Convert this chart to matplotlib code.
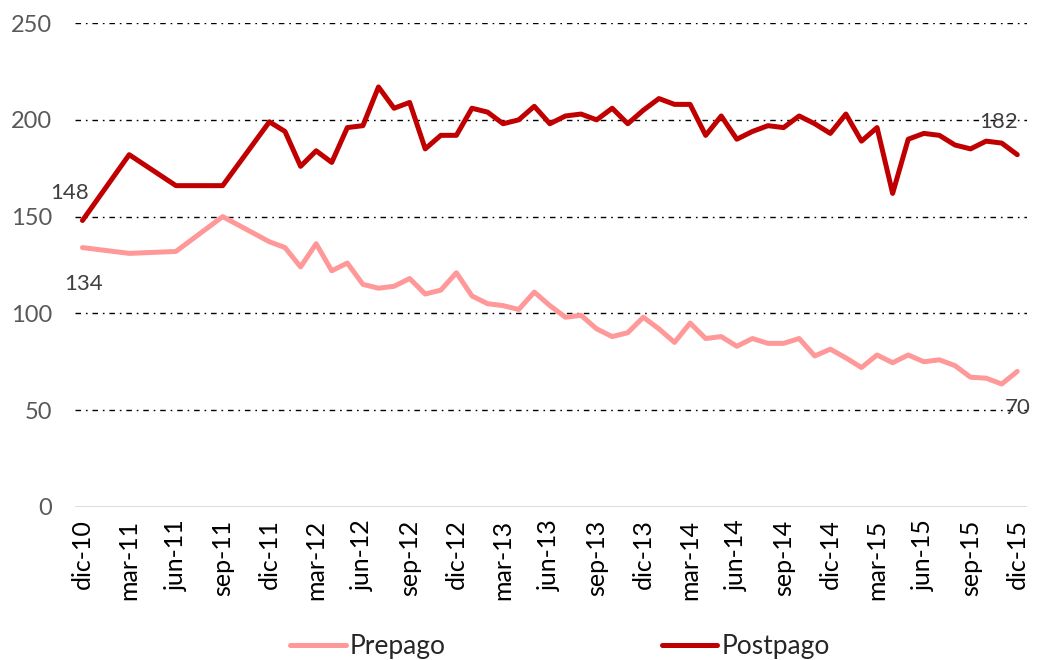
import numpy as np
import matplotlib
matplotlib.use("Agg")
import matplotlib.pyplot as plt

plt.rcParams['font.family'] = ['Lato', 'DejaVu Sans']

# first year quarterly, then monthly (year, month)
periods = [(2010, 12), (2011, 3), (2011, 6), (2011, 9)] + \
          [(y, m) for y in range(2011, 2016) for m in range(1, 13) if (y, m) >= (2011, 12)]

postpago = [148, 182, 166, 166,
            199,
            194, 176, 184, 178, 196, 197, 217, 206, 209, 185, 192, 192,
            206, 204, 198, 200, 207, 198, 202, 203, 200, 206, 198, 205,
            211, 208, 208, 192, 202, 190, 194, 197, 196, 202, 198, 193,
            203, 189, 196, 162, 190, 193, 192, 187, 185, 189, 188, 182]

prepago = [134, 131, 132, 150,
           137,
           134, 124, 136, 122, 126, 115, 113, 114, 118, 110, 112, 121,
           109, 105, 104, 102, 111, 104, 98, 99, 92, 88, 90, 98,
           92, 85, 95, 87, 88, 83, 87, 84.5, 84.5, 87, 78, 81.5,
           77, 72, 78.5, 74.5, 78.5, 75, 76, 73, 67, 66.5, 63.5, 70]

tick_labels = ['dic-10', 'mar-11', 'jun-11', 'sep-11', 'dic-11', 'mar-12', 'jun-12',
               'sep-12', 'dic-12', 'mar-13', 'jun-13', 'sep-13', 'dic-13', 'mar-14',
               'jun-14', 'sep-14', 'dic-14', 'mar-15', 'jun-15', 'sep-15', 'dic-15']

# months since dic-10
x = np.array([(y - 2010) * 12 + m - 12 for y, m in periods])

fig = plt.figure(figsize=(10.37, 6.6), dpi=100)
ax = fig.add_axes([0.072, 0.232, 0.918, 0.733])

for v in [50, 100, 150, 200, 250]:
    ax.axhline(v, color='black', linewidth=1.0, dashes=(4, 3.5, 1.2, 3.5), zorder=1)
ax.axhline(0, color='#d9d9d9', linewidth=1.3, zorder=1)

ax.plot(x, prepago, color='#FF9999', linewidth=3.6, label='Prepago', zorder=3,
        solid_joinstyle='round', solid_capstyle='round')
ax.plot(x, postpago, color='#C00000', linewidth=3.6, label='Postpago', zorder=4,
        solid_joinstyle='round', solid_capstyle='round')

txt = dict(color='#404040', fontsize=16)
ax.text(x[0] - 0.8, postpago[0] + 14, f'{postpago[0]:.0f}', ha='center', va='center', **txt)
ax.text(x[0] + 0.1, prepago[0] - 19, f'{prepago[0]:.0f}', ha='center', va='center', **txt)
ax.text(x[-1] - 1.2, postpago[-1] + 17, f'{postpago[-1]:.0f}', ha='center', va='center', **txt)
ax.text(x[-1], prepago[-1] - 19, f'{prepago[-1]:.0f}', ha='center', va='center', **txt)

ax.set_xlim(-0.5, 60.6)
ax.set_ylim(0, 250)
ax.set_yticks([0, 50, 100, 150, 200, 250])
ax.set_xticks(np.arange(0, 61, 3))
ax.set_xticklabels(tick_labels, rotation=90)
ax.tick_params(axis='x', length=0, pad=9, labelsize=18, labelcolor='#000000')
ax.tick_params(axis='y', length=0, pad=16, labelsize=17, labelcolor='#595959')
for s in ax.spines.values():
    s.set_visible(False)

fig.legend(loc='lower center', bbox_to_anchor=(0.54, -0.035), ncol=2, frameon=False,
           fontsize=19, handlelength=2.1, columnspacing=8.2, handletextpad=0.15,
           labelcolor='#262626')

fig.savefig('out.png', dpi=100)
